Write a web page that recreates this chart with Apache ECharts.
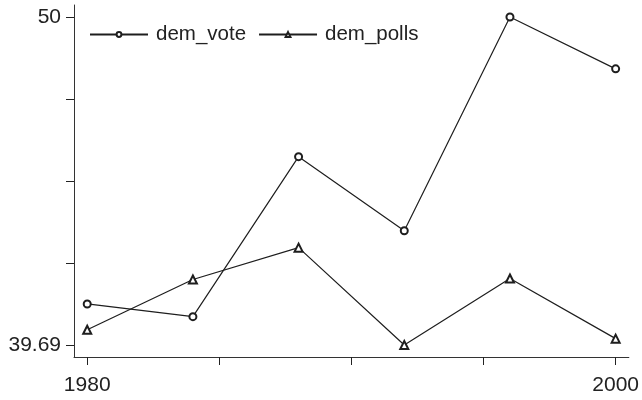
<!DOCTYPE html>
<html>
<head>
<meta charset="utf-8">
<script src="https://cdn.jsdelivr.net/npm/echarts@6/dist/echarts.min.js"></script>
<style>
  html, body { margin: 0; padding: 0; background: #fff; }
  #chart { width: 642px; height: 400px; }
</style>
</head>
<body>
<div id="chart"></div>
<script>
// Election years and series values
var years = [1980, 1984, 1988, 1992, 1996, 2000];
var demVote = [40.98, 40.58, 45.61, 43.28, 50.0, 48.37];
var demPolls = [40.17, 41.75, 42.75, 39.69, 41.78, 39.89];

// Axis ticks and the subset that carries labels
var xTicks = [1980, 1985, 1990, 1995, 2000];
var xLabels = [1980, 2000];
var yTicks = [39.69, 42.2675, 44.845, 47.4225, 50];
var yLabels = [39.69, 50];

var ink = '#1e1e1e';
var font = 'Liberation Sans, Arial, Helvetica, sans-serif';

function pairs(xs, ys) {
  return xs.map(function (x, i) { return [x, ys[i]]; });
}

var chart = echarts.init(document.getElementById('chart'), null, { renderer: 'canvas' });
chart.setOption({
  animation: false,
  backgroundColor: '#ffffff',
  grid: { left: 74, right: 10, top: 5, bottom: 43, containLabel: false },
  legend: {
    left: 89,
    top: 24,
    padding: 0,
    itemWidth: 58,
    itemHeight: 6,
    itemGap: 12,
    textStyle: { fontFamily: font, fontSize: 20.5, color: '#222', padding: [0, 0, 0, 3] },
    data: ['dem_vote', 'dem_polls']
  },
  xAxis: {
    type: 'value',
    min: 1979.5,
    max: 2000.5,
    axisLine: { show: true, onZero: false, lineStyle: { color: '#333', width: 1 } },
    axisTick: { show: true, length: 8, customValues: xTicks, lineStyle: { color: '#222', width: 1 } },
    axisLabel: {
      customValues: xLabels, margin: 18, fontFamily: font, fontSize: 21, color: '#222',
      formatter: function (v) { return String(v); }
    },
    splitLine: { show: false }
  },
  yAxis: {
    type: 'value',
    min: 39.313,
    max: 50.377,
    axisLine: { show: true, onZero: false, lineStyle: { color: '#333', width: 1 } },
    axisTick: { show: true, length: 8, customValues: yTicks, lineStyle: { color: '#222', width: 1 } },
    axisLabel: {
      customValues: yLabels, margin: 13, fontFamily: font, fontSize: 21, color: '#222',
      formatter: function (v) { return String(v); }
    },
    splitLine: { show: false }
  },
  series: [
    {
      name: 'dem_vote',
      type: 'line',
      data: pairs(years, demVote),
      symbol: 'emptyCircle',
      symbolSize: 7,
      lineStyle: { color: ink, width: 1.2 },
      itemStyle: { color: ink, borderColor: ink, borderWidth: 1 }
    },
    {
      name: 'dem_polls',
      type: 'line',
      data: pairs(years, demPolls),
      symbol: 'emptyTriangle',
      symbolSize: 8,
      lineStyle: { color: ink, width: 1.2 },
      itemStyle: { color: ink, borderColor: ink, borderWidth: 1 }
    }
  ]
});
</script>
</body>
</html>
